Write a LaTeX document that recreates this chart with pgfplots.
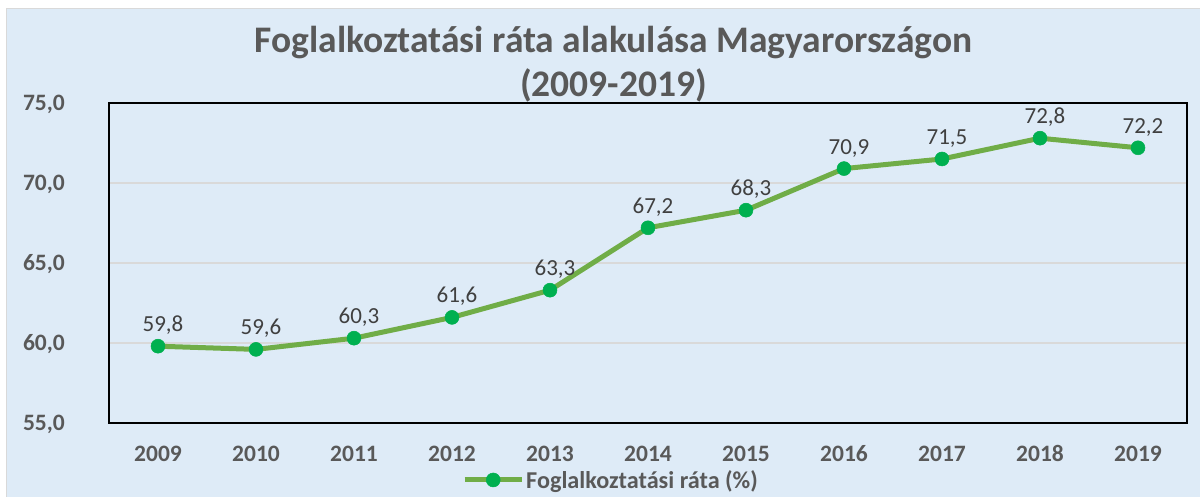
\documentclass[border=0pt]{standalone}
\usepackage{fontspec}
\setmainfont{Carlito}
\usepackage{pgfplots}
\pgfplotsset{compat=1.18}
\definecolor{bgblue}{HTML}{DEEBF7}
\definecolor{linegreen}{HTML}{70AD47}
\definecolor{markgreen}{HTML}{00B050}
\definecolor{txtgray}{HTML}{595959}
\definecolor{lbl}{HTML}{404040}
\definecolor{gridgray}{HTML}{D9D9D9}
\begin{document}
\begin{tikzpicture}
\fill[white] (-109pt,-74pt) rectangle (1091pt,423pt);
\fill[bgblue] (-102pt,-74pt) rectangle (1091pt,414pt);
\draw[gridgray, line width=1pt] (-102pt,-74pt) -- (-102pt,414pt) -- (1091pt,414pt);
\begin{axis}[
  at={(0pt,0pt)}, anchor=south west,
  scale only axis, width=1078pt, height=320pt,
  xmin=-0.5, xmax=10.5, ymin=55, ymax=75,
  xtick={0,1,2,3,4,5,6,7,8,9,10},
  xticklabels={2009,2010,2011,2012,2013,2014,2015,2016,2017,2018,2019},
  ytick={55,60,65,70,75},
  ymajorgrids, grid style={gridgray, line width=1.5pt},
  axis line style={black, line width=2pt},
  major tick length=0pt,
  /pgf/number format/.cd, use comma, fixed, fixed zerofill, precision=1, assume math mode=true,
  /pgfplots/.cd,
  yticklabel style={anchor=base east, inner sep=0pt, xshift=-44pt, yshift=-7.7pt,
    font=\fontsize{23.5}{28}\selectfont\bfseries, text=txtgray},
  xticklabel style={anchor=base, inner sep=0pt, yshift=-39pt,
    font=\fontsize{23.5}{28}\selectfont\bfseries, text=txtgray},
  nodes near coords,
  every node near coord/.append style={anchor=base, inner sep=0pt, yshift=14.5pt, xshift=5pt,
    font=\fontsize{23}{28}\selectfont, text=lbl},
  legend style={at={(0.4657,-0.178)}, anchor=center, draw=none, fill=none, inner sep=0pt,
    font=\fontsize{24.2}{29}\selectfont\bfseries, text=txtgray},
  legend image code/.code={\draw[mark repeat=2, mark phase=2, #1] plot coordinates {(0pt,0pt) (28.5pt,0pt) (57pt,0pt)};},
]
\addplot[linegreen, line width=5pt, mark=*, mark size=7pt,
  mark options={fill=markgreen, draw=markgreen, line width=0.5pt}]
  coordinates {(0,59.8) (1,59.6) (2,60.3) (3,61.6) (4,63.3) (5,67.2) (6,68.3) (7,70.9) (8,71.5) (9,72.8) (10,72.2)};
\addlegendentry{Foglalkoztatási ráta (\%)}
\end{axis}
\node[anchor=base, font=\fontsize{37.5}{45}\selectfont\bfseries, text=txtgray] at (504.5pt,370pt) {Foglalkoztatási ráta alakulása Magyarországon};
\node[anchor=base, font=\fontsize{37.5}{45}\selectfont\bfseries, text=txtgray] at (504.5pt,326pt) {(2009-2019)};
\pgfresetboundingbox
\useasboundingbox (-109pt,-74pt) rectangle (1091pt,423pt);
\end{tikzpicture}
\end{document}
